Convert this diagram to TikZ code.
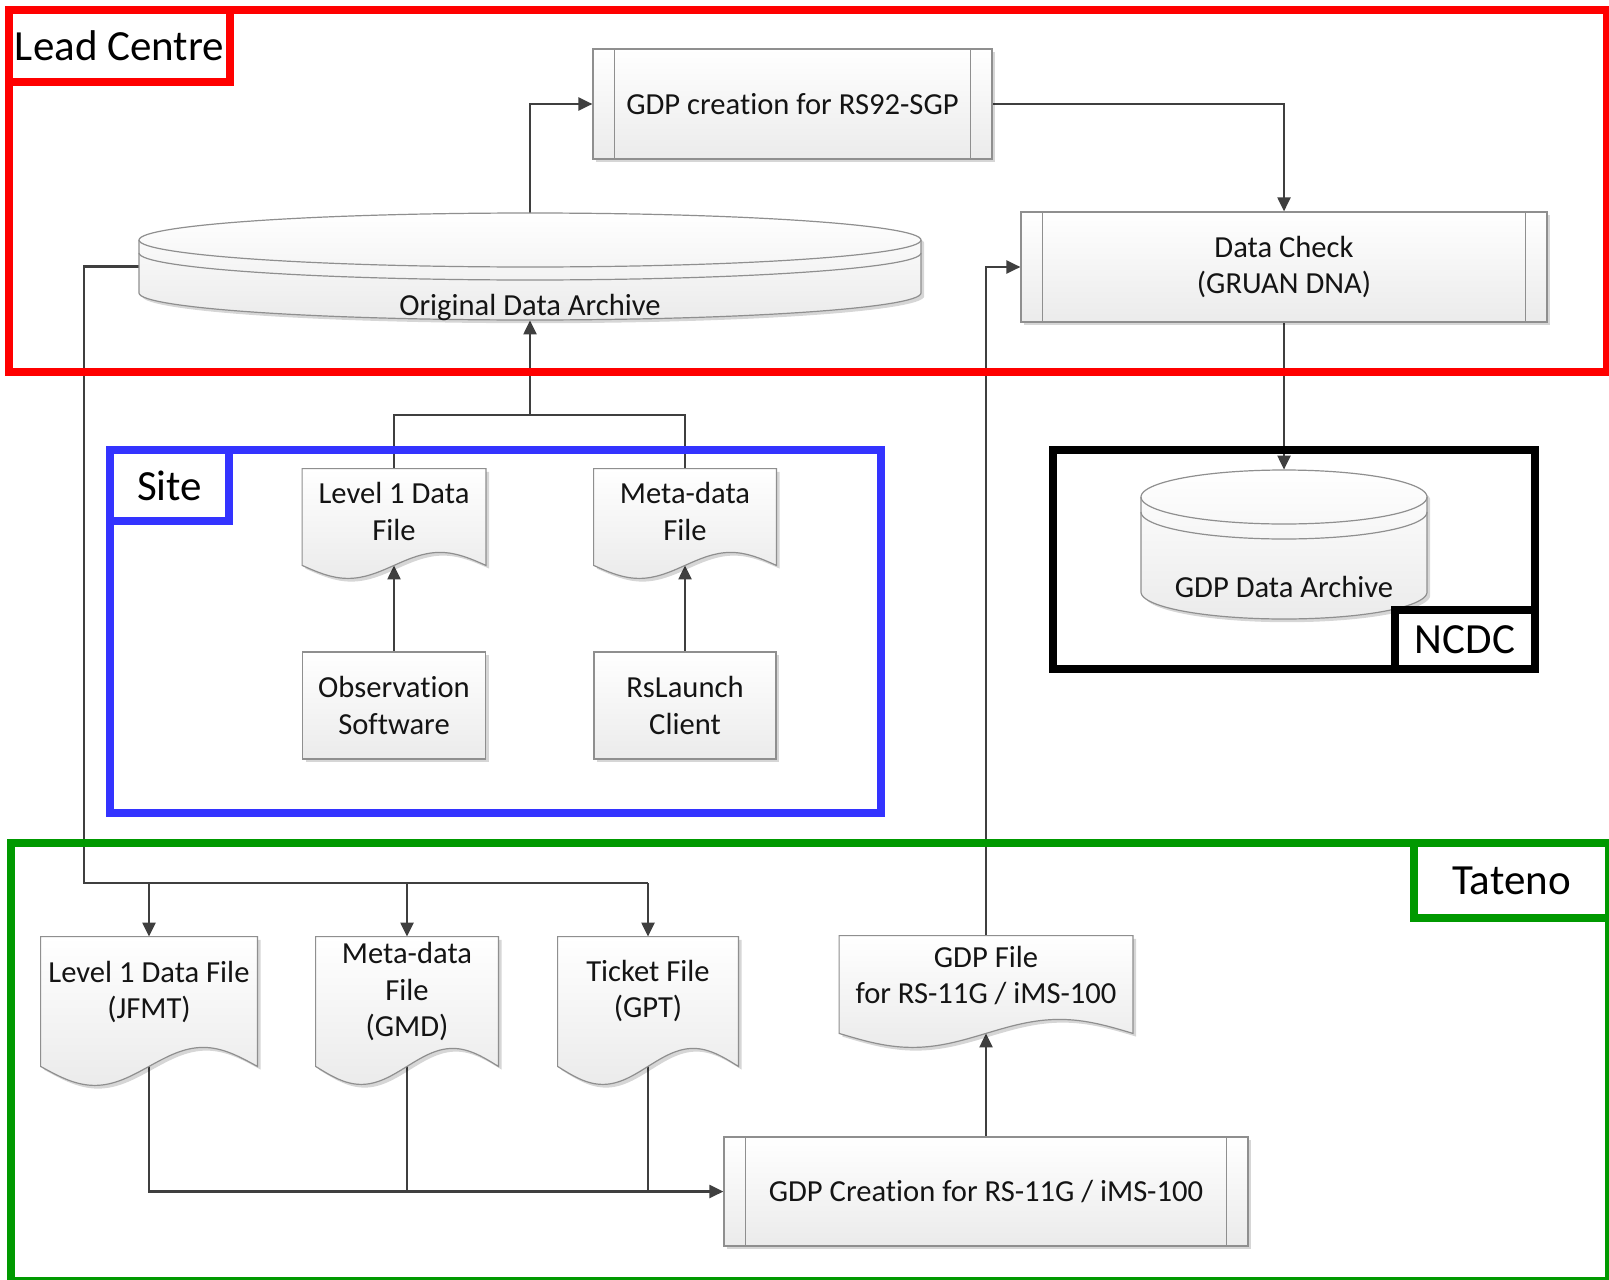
\documentclass[tikz,border=0pt]{standalone}
\usepackage{fontspec}
\setmainfont{Carlito}[Ligatures=NoCommon]
\usetikzlibrary{arrows.meta,calc,shadows}
\pgfdeclarelayer{conns}
\pgfdeclarelayer{shapes}
\pgfsetlayers{conns,shapes,main}

\definecolor{connc}{HTML}{3F3F3F}
\definecolor{edgec}{HTML}{8F8F8F}
\definecolor{redc}{HTML}{FF0000}
\definecolor{bluec}{HTML}{3333FF}
\definecolor{greenc}{HTML}{009900}
\definecolor{fillbot}{HTML}{EBEBEB}

\newcommand\bodyfont{\fontsize{15.3}{18.25}\selectfont}
\newcommand\tagfont{\fontsize{21.5}{25}\selectfont}

\tikzset{
  conn/.style={draw=connc, line width=1.1pt},
  arr/.style={conn, -{Triangle[length=7pt,width=6.5pt]}},
  shadowed/.style={drop shadow={shadow xshift=1.6pt, shadow yshift=-1.6pt, opacity=0.16, fill=black}},
  shapefill/.style={draw=edgec, line width=0.6pt, top color=white, bottom color=fillbot, shadowed},
  procbox/.style={shapefill, rectangle, inner sep=2pt, align=center, font=\bodyfont, text=black!92},
  docnode/.style={rectangle, inner sep=1pt, align=center, font=\bodyfont, text=black!92},
  anchorbox/.style={rectangle, inner sep=0pt, draw=none},
  labeltext/.style={inner sep=0pt, font=\bodyfont, text=black!92},
  container/.style={line width=3.7pt},
  tagbox/.style={draw, line width=3.7pt, fill=white, font=\tagfont, text=black, inner sep=0pt},
}

\newcommand\procbars[1]{%
  \draw[draw=edgec, line width=0.6pt] ([xshift=11pt]#1.north west) -- ([xshift=11pt]#1.south west)
        ([xshift=-11pt]#1.north east) -- ([xshift=-11pt]#1.south east);}

\newcommand\docshape[2]{%
  \path[shapefill] (#1.south west) -- (#1.north west) -- (#1.north east) -- (#1.south east)
    sin ($(#1.south west)!0.75!(#1.south east)+(0,-#2)$)
    cos (#1.south)
    sin ($(#1.south west)!0.25!(#1.south east)+(0,#2)$)
    cos (#1.south west) -- cycle;}

\newcommand\cylshape[6]{%
  \path[shapefill] plot[domain=180:360,samples=60] ({#1+#2*cos(\x)},{#3+#5*sin(\x)})
     -- plot[domain=0:180,samples=60] ({#1+#2*cos(\x)},{#4+#5*sin(\x)}) -- cycle;
  \draw[draw=edgec, line width=0.6pt] plot[domain=0:180,samples=60] ({#1+#2*cos(\x)},{#3+#5*sin(\x)});
  \draw[draw=edgec, line width=0.6pt] plot[domain=0:180,samples=60] ({#1+#2*cos(\x)},{#3+#6+#5*sin(\x)});
}

\begin{document}
\begin{tikzpicture}[x=0.5pt,y=-0.5pt]
\useasboundingbox (0,0) rectangle (1609,1279);

% ---------- Lead Centre ----------
\node[procbox, minimum width=199.5pt, minimum height=55pt] (gdpc) at (792.5,104) {GDP creation for RS92-SGP};
\procbars{gdpc}
\node[procbox, minimum width=263pt, minimum height=55pt] (dchk) at (1284,267) {Data Check\\(GRUAN DNA)};
\procbars{dchk}
\node[anchorbox, minimum width=391pt, minimum height=53.5pt] (oda) at (530,266.5) {};
\begin{pgfonlayer}{shapes}\cylshape{530}{391}{240}{293}{27}{13}\end{pgfonlayer}
\node[labeltext] (odat) at (530,308) {Original Data Archive};

% ---------- NCDC ----------
\node[anchorbox, minimum width=143pt, minimum height=74.5pt] (gdpa) at (1284,544.5) {};
\begin{pgfonlayer}{shapes}\cylshape{1284}{143}{497}{592}{27}{15}\end{pgfonlayer}
\node[labeltext] (gdpat) at (1284,587) {GDP Data Archive};

% ---------- Site ----------
\node[docnode, minimum width=91.5pt, minimum height=48pt, text depth=5.5pt] (l1s) at (394,517) {Level 1 Data\\File};
\node[docnode, minimum width=91pt, minimum height=48pt, text depth=5.5pt] (mds) at (685,517) {Meta-data\\File};
\begin{pgfonlayer}{shapes}\docshape{l1s}{13}\docshape{mds}{13}\end{pgfonlayer}
\node[procbox, minimum width=91.5pt, minimum height=53.5pt] (obs) at (394,705.5) {Observation\\Software};
\node[procbox, minimum width=91pt, minimum height=53.5pt] (rsl) at (685,705.5) {RsLaunch\\Client};

% ---------- Tateno ----------
\node[docnode, minimum width=108pt, minimum height=64.5pt, text depth=11.5pt] (jfmt) at (149,1001.5) {Level 1 Data File\\(JFMT)};
\node[docnode, minimum width=91pt, minimum height=64.5pt, text depth=12pt] (gmd) at (407,1001.5) {Meta-data\\File\\(GMD)};
\node[docnode, minimum width=90pt, minimum height=64.5pt, text depth=12.5pt] (tkt) at (648,1001.5) {Ticket File\\(GPT)};
\node[docnode, minimum width=146.5pt, minimum height=48.5pt, text depth=9.5pt] (gdpf) at (986,984.5) {GDP File\\for RS-11G / iMS-100};
\begin{pgfonlayer}{shapes}\docshape{jfmt}{19}\docshape{gmd}{18}\docshape{tkt}{18}\docshape{gdpf}{14}\end{pgfonlayer}
\node[procbox, minimum width=262pt, minimum height=54.5pt] (gdpcr) at (986,1191.5) {GDP Creation for RS-11G / iMS-100};
\procbars{gdpcr}

% ---------- connectors ----------
\begin{pgfonlayer}{conns}
\fill[white] (0,0) rectangle (1609,1279);
\draw[arr] (oda.north) |- (gdpc.west);
\draw[arr] (gdpc.east) -| (dchk.north);
\draw[arr] (dchk.south) -- (gdpa.north);
\coordinate (sj) at (530,415);
\draw[conn] (l1s.north) |- (sj) -| (mds.north);
\draw[arr] (sj) -- (oda.south);
\draw[arr] (obs.north) -- (l1s.south);
\draw[arr] (rsl.north) -- (mds.south);
\coordinate (bl) at (84,883);
\draw[conn] (oda.west) -| (bl) -- (tkt.north |- bl);
\draw[arr] (jfmt.north |- bl) -- (jfmt.north);
\draw[arr] (gmd.north |- bl) -- (gmd.north);
\draw[arr] (tkt.north |- bl) -- (tkt.north);
\draw[arr] (jfmt.south) |- (gdpcr.west);
\draw[conn] (gmd.south) -- (gmd.south |- gdpcr.west);
\draw[conn] (tkt.south) -- (tkt.south |- gdpcr.west);
\draw[arr] (gdpcr.north) -- (gdpf.south);
\draw[arr] (gdpf.north) |- (dchk.west);
\end{pgfonlayer}

% ---------- containers ----------
\draw[redc, container] (9,10) rectangle (1607,372);
\node[tagbox, draw=redc, minimum width=110.5pt, minimum height=36pt] (lct) at (119.5,46) {Lead Centre};
\draw[bluec, container] (110,450) rectangle (881,813);
\node[tagbox, draw=bluec, minimum width=59.5pt, minimum height=35.5pt] (sitet) at (169.5,485.5) {Site};
\draw[black, container] (1053,450) rectangle (1535,669);
\node[tagbox, draw=black, minimum width=70pt, minimum height=29.5pt] (ncdct) at (1465,639.5) {NCDC};
\draw[greenc, container] (11,843) rectangle (1609,1281);
\node[tagbox, draw=greenc, minimum width=97.5pt, minimum height=37.5pt] (tatt) at (1511.5,880.5) {Tateno};
\end{tikzpicture}
\end{document}
